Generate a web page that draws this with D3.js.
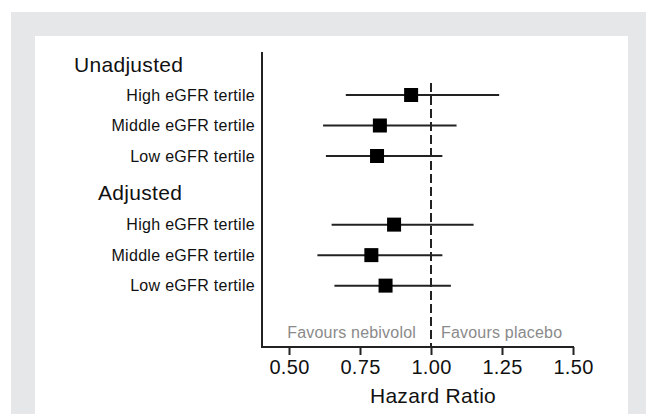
<!DOCTYPE html>
<html lang="en">
<head>
  <meta charset="UTF-8">
  <title>Hazard ratio by eGFR tertile</title>
  <script src="https://d3js.org/d3.v7.min.js"></script>
  <style>
    body { margin: 0; background: #fff; }
    text { font-family: "Liberation Sans", Arial, Helvetica, sans-serif; fill: #111; }
  </style>
</head>
<body>
  <script>
    var width = 646;
    var height = 414;

    // data
    var groups = ['Unadjusted', 'Adjusted'];
    var labels = ['High eGFR tertile', 'Middle eGFR tertile', 'Low eGFR tertile'];
    var hrUnadj = [0.93, 0.82, 0.81];
    var lowUnadj = [0.70, 0.62, 0.63];
    var highUnadj = [1.24, 1.09, 1.04];
    var hrAdj = [0.87, 0.79, 0.84];
    var lowAdj = [0.65, 0.60, 0.66];
    var highAdj = [1.15, 1.04, 1.07];
    var ticks = [0.5, 0.75, 1.0, 1.25, 1.5];

    var rows = [];
    labels.forEach(function (l, i) {
      rows.push({ label: l, pos: i, hr: hrUnadj[i], lo: lowUnadj[i], hi: highUnadj[i] });
    });
    labels.forEach(function (l, i) {
      rows.push({ label: l, pos: 4.25 + i, hr: hrAdj[i], lo: lowAdj[i], hi: highAdj[i] });
    });
    var headerPos = [-1, 3.2];

    var svg = d3.select('body')
      .append('svg')
      .attr('width', width)
      .attr('height', height);

    // grey frame
    svg.append('rect').attr('x', 11).attr('y', 12).attr('width', 660).attr('height', 420).attr('fill', '#e6e7e9');
    svg.append('rect').attr('x', 35).attr('y', 36).attr('width', 593).attr('height', 400).attr('fill', '#fff');

    var x = d3.scaleLinear().domain([0.5, 1.5]).range([289, 573]);
    var y = d3.scaleLinear().domain([0, 1]).range([95, 125.5]);
    var axisY = 347;
    var axisLeft = 262;

    // reference line at HR = 1
    svg.append('line')
      .attr('x1', x(1)).attr('x2', x(1))
      .attr('y1', 83).attr('y2', axisY)
      .attr('stroke', '#222').attr('stroke-width', 2)
      .attr('stroke-dasharray', '9,4');

    // confidence intervals
    svg.selectAll('.ci')
      .data(rows)
      .enter()
      .append('line')
      .attr('class', 'ci')
      .attr('x1', function (d) { return x(d.lo); })
      .attr('x2', function (d) { return x(d.hi); })
      .attr('y1', function (d) { return y(d.pos); })
      .attr('y2', function (d) { return y(d.pos); })
      .attr('stroke', '#222')
      .attr('stroke-width', 2);

    // point estimates
    var sq = 14;
    svg.selectAll('.pt')
      .data(rows)
      .enter()
      .append('rect')
      .attr('class', 'pt')
      .attr('x', function (d) { return x(d.hr) - sq / 2; })
      .attr('y', function (d) { return y(d.pos) - sq / 2; })
      .attr('width', sq)
      .attr('height', sq)
      .attr('fill', '#000');

    // row labels
    svg.selectAll('.lab')
      .data(rows)
      .enter()
      .append('text')
      .attr('class', 'lab')
      .attr('x', 255)
      .attr('y', function (d) { return y(d.pos) + 5.5; })
      .attr('text-anchor', 'end')
      .attr('font-size', '16px')
      .attr('letter-spacing', '0.3px')
      .text(function (d) { return d.label; });

    svg.selectAll('.grp')
      .data(groups)
      .enter()
      .append('text')
      .attr('class', 'grp')
      .attr('x', function (d, i) { return i === 0 ? 74 : 98; })
      .attr('y', function (d, i) { return y(headerPos[i]) + 7; })
      .attr('font-size', '21px')
      .attr('letter-spacing', '0.3px')
      .text(function (d) { return d; });

    // y axis line
    svg.append('line')
      .attr('x1', axisLeft).attr('x2', axisLeft)
      .attr('y1', 52).attr('y2', axisY + 1)
      .attr('stroke', '#222').attr('stroke-width', 2);

    // x axis
    var xAxis = d3.axisBottom(x)
      .tickValues(ticks)
      .tickSize(8)
      .tickPadding(5)
      .tickFormat(d3.format('.2f'));
    var gx = svg.append('g')
      .attr('transform', 'translate(0,' + axisY + ')')
      .call(xAxis);
    gx.select('.domain').remove();
    gx.selectAll('.tick line').attr('stroke', '#222').attr('stroke-width', 2);
    gx.selectAll('.tick text')
      .attr('font-size', '20px')
      .attr('letter-spacing', '0.3px')
      .attr('font-family', '"Liberation Sans", Arial, sans-serif')
      .attr('fill', '#111');
    gx.append('line')
      .attr('x1', axisLeft).attr('x2', x(1.5) + 1)
      .attr('y1', 0).attr('y2', 0)
      .attr('stroke', '#222').attr('stroke-width', 2);

    svg.append('text')
      .attr('x', 433)
      .attr('y', 403)
      .attr('text-anchor', 'middle')
      .attr('font-size', '21px')
      .attr('letter-spacing', '0.3px')
      .text('Hazard Ratio');

    // direction labels
    svg.append('text')
      .attr('x', x(1) - 15)
      .attr('y', 338)
      .attr('text-anchor', 'end')
      .attr('font-size', '16px')
      .attr('letter-spacing', '0.2px')
      .style('fill', '#8a8a8a')
      .text('Favours nebivolol');
    svg.append('text')
      .attr('x', x(1) + 10)
      .attr('y', 338)
      .attr('text-anchor', 'start')
      .attr('font-size', '16px')
      .attr('letter-spacing', '0.2px')
      .style('fill', '#8a8a8a')
      .text('Favours placebo');
  </script>
</body>
</html>
